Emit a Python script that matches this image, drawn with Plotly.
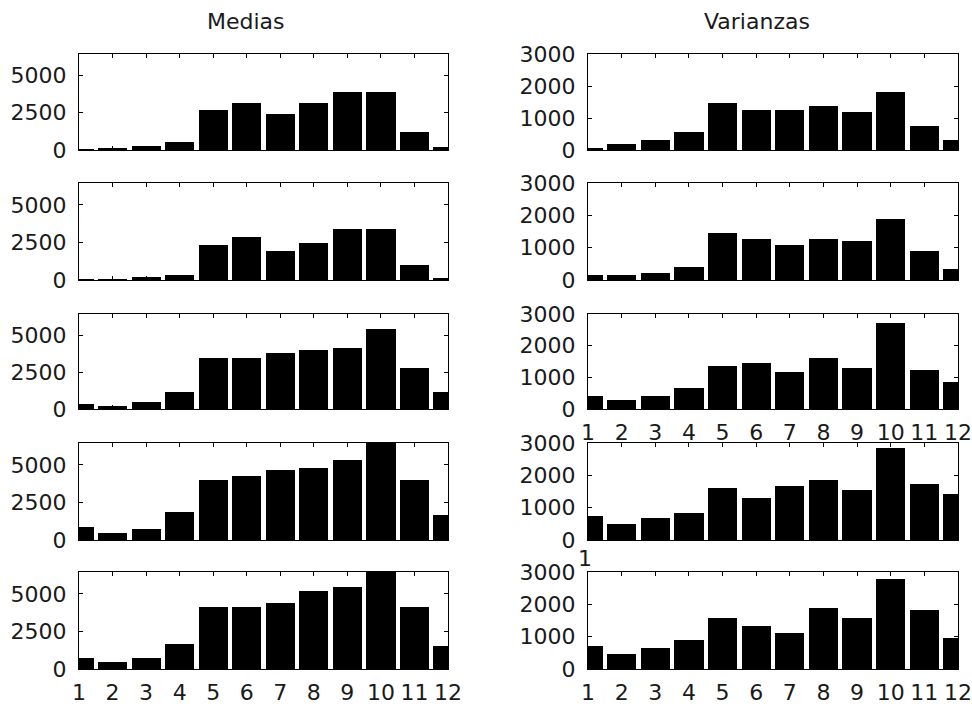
import plotly.graph_objects as go

months = list(range(1, 13))
month_labels = [str(m) for m in months]

medias_1 = [20, 130, 270, 540, 2710, 3140, 2440, 3140, 3920, 3920, 1210, 220]
medias_2 = [10, 30, 200, 330, 2340, 2870, 1940, 2470, 3400, 3400, 990, 150]
medias_3 = [320, 180, 475, 1150, 3480, 3480, 3780, 4030, 4160, 5410, 2800, 1150]
medias_4 = [880, 490, 750, 1830, 3980, 4240, 4640, 4790, 5320, 7000, 3980, 1680]
medias_5 = [730, 470, 730, 1670, 4090, 4090, 4380, 5160, 5450, 7000, 4090, 1540]

varianzas_1 = [40, 190, 320, 560, 1460, 1260, 1260, 1390, 1200, 1820, 750, 320]
varianzas_2 = [150, 140, 215, 410, 1460, 1270, 1090, 1270, 1210, 1890, 900, 350]
varianzas_3 = [410, 285, 410, 660, 1370, 1440, 1180, 1620, 1300, 2710, 1240, 850]
varianzas_4 = [730, 480, 680, 850, 1600, 1290, 1660, 1860, 1540, 2850, 1720, 1420]
varianzas_5 = [710, 465, 650, 900, 1590, 1340, 1100, 1900, 1590, 2780, 1840, 960]

medias_ticks = [0, 2500, 5000]
varianzas_ticks = [0, 1000, 2000, 3000]
medias_range = [0, 6450]
varianzas_range = [0, 3000]

col_titles = ["Medias", "Varianzas"]

W, H = 972, 708
rows_px = [(54, 150), (183, 280), (314, 409), (443, 540), (572, 669)]
cols_px = [(79, 448), (588, 958)]

medias = [medias_1, medias_2, medias_3, medias_4, medias_5]
varianzas = [varianzas_1, varianzas_2, varianzas_3, varianzas_4, varianzas_5]

FONT = "DejaVu Sans, Verdana, sans-serif"
font_tick = dict(family=FONT, size=22, color="#1a1a1a")


def px_x(v):
    return v / W


def px_y(v):
    return 1 - v / H


fig = go.Figure()
layout = {}

n = 0
for c in range(2):
    for r in range(5):
        n += 1
        vals = medias[r] if c == 0 else varianzas[r]
        xa = "x" if n == 1 else f"x{n}"
        ya = "y" if n == 1 else f"y{n}"
        fig.add_trace(go.Bar(
            x=months, y=vals, xaxis=xa, yaxis=ya, width=0.87,
            marker=dict(color="black", line=dict(color="black", width=0)),
            showlegend=False, hoverinfo="x+y"))
        x0, x1 = cols_px[c]
        t, b = rows_px[r]
        show_x = (r == 4) or (c == 1 and r == 2)
        layout["xaxis" if n == 1 else f"xaxis{n}"] = dict(
            domain=[px_x(x0), px_x(x1)], anchor=ya, range=[1, 12],
            tickmode="array", tickvals=months, ticktext=month_labels,
            showticklabels=show_x, ticks="inside", ticklen=4, tickwidth=1,
            tickcolor="black", showline=True, linecolor="black", linewidth=1,
            mirror="ticks", showgrid=False, zeroline=False, tickfont=font_tick,
            ticklabelstandoff=4, automargin=False)
        layout["yaxis" if n == 1 else f"yaxis{n}"] = dict(
            domain=[px_y(b), px_y(t)], anchor=xa,
            range=medias_range if c == 0 else varianzas_range,
            tickmode="array", tickvals=medias_ticks if c == 0 else varianzas_ticks,
            ticks="inside", ticklen=4, tickwidth=1, tickcolor="black",
            showline=True, linecolor="black", linewidth=1, mirror="ticks",
            showgrid=False, zeroline=False, tickfont=font_tick,
            ticklabelstandoff=7, automargin=False)

annotations = [
    dict(text=col_titles[0], x=px_x(246), y=px_y(22), xref="paper", yref="paper",
         xanchor="center", yanchor="middle", showarrow=False,
         font=dict(family=FONT, size=22, color="#1a1a1a")),
    dict(text=col_titles[1], x=px_x(757), y=px_y(22), xref="paper", yref="paper",
         xanchor="center", yanchor="middle", showarrow=False,
         font=dict(family=FONT, size=22, color="#1a1a1a")),
    dict(text="1", x=px_x(585), y=px_y(558), xref="paper", yref="paper",
         xanchor="center", yanchor="middle", showarrow=False, font=font_tick),
]

fig.update_layout(
    width=W, height=H, margin=dict(l=0, r=0, t=0, b=0, pad=0, autoexpand=False),
    paper_bgcolor="white", plot_bgcolor="white", bargap=0,
    annotations=annotations, **layout)

fig.write_html(
    "out.html",
    config={"displayModeBar": False},
    post_script="document.body.style.margin='0';document.body.style.overflow='hidden';",
)
